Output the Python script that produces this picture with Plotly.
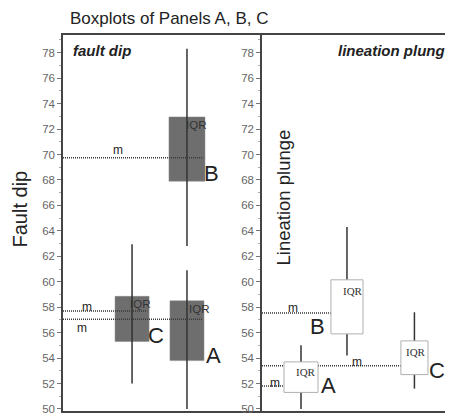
import plotly.graph_objects as go

# ---------------- data ----------------
groups = ["A", "B", "C"]

fault_lower = [50.0, 62.8, 52.0]
fault_q1 = [53.8, 67.9, 55.3]
fault_median = [57.05, 69.75, 57.7]
fault_q3 = [58.5, 72.95, 58.85]
fault_upper = [60.9, 78.3, 62.95]

lin_lower = [50.0, 54.2, 51.6]
lin_q1 = [51.3, 55.9, 52.7]
lin_median = [51.8, 57.55, 53.4]
lin_q3 = [53.7, 60.15, 55.35]
lin_upper = [55.0, 64.3, 57.6]

y_ticks = [50, 52, 54, 56, 58, 60, 62, 64, 66, 68, 70, 72, 74, 76, 78]

# ---------------- layout constants (positions / sizes) ----------------
fault_pos = [6.23, 6.23, 3.47]
fault_w = [1.71, 1.81, 1.71]
lin_pos = [1.96, 4.27, 7.66]
lin_w = [1.71, 1.61, 1.36]

fault_m_lab = [(0.95, 56.38), (2.76, 70.34), (1.2, 58.05)]
fault_iqr_lab = [(6.83, 57.87), (6.68, 72.3), (3.87, 58.27)]
fault_grp_lab = [(7.54, 54.2), (7.44, 68.5), (4.67, 55.77)]
lin_m_lab = [(0.65, 52.05), (1.56, 57.95), (4.77, 53.67)]
lin_iqr_lab = [(2.21, 52.88), (4.57, 59.3), (7.74, 54.45)]
lin_grp_lab = [(3.32, 51.84), (2.81, 56.48), (8.79, 53.0)]

OFF = 8  # page body margin
W, H = 454, 414
ml, mr, mt, mb = 63 - OFF, 0, 35 - OFF, H - (411 - OFF)
pw, ph = W - ml - mr, H - mt - mb
split = 199 / pw
xr2 = (pw - 199) / 19.9

YR = [49.84, 79.39]
DARK = "#333333"
AX = "#444444"
SANS = "Liberation Sans, Arial, sans-serif"
SERIF = "Liberation Serif, Times New Roman, serif"

fig = go.Figure()

# ---------- left panel: fault dip ----------
for i, g in enumerate(groups):
    c, hw = fault_pos[i], fault_w[i] / 2
    fig.add_trace(go.Scatter(
        x=[c - hw, c + hw, c + hw, c - hw, c - hw],
        y=[fault_q1[i], fault_q1[i], fault_q3[i], fault_q3[i], fault_q1[i]],
        fill="toself", fillcolor="#6e6e6e", mode="lines",
        line=dict(width=0.5, color="#888888"), xaxis="x", yaxis="y",
        showlegend=False, hoverinfo="skip"))
for i, g in enumerate(groups):
    c, hw = fault_pos[i], fault_w[i] / 2
    fig.add_trace(go.Scatter(
        x=[c, c], y=[fault_lower[i], fault_upper[i]], mode="lines",
        line=dict(width=1.5, color=DARK), xaxis="x", yaxis="y",
        showlegend=False, hoverinfo="skip"))
    fig.add_trace(go.Scatter(
        x=[0, c + hw * 0.9], y=[fault_median[i], fault_median[i]], mode="lines",
        line=dict(width=1.5, color="#3a3a3a", dash="1px,1px"), xaxis="x", yaxis="y",
        showlegend=False, hoverinfo="skip"))

# ---------- right panel: lineation plunge ----------
for i, g in enumerate(groups):
    c, hw = lin_pos[i], lin_w[i] / 2
    fig.add_trace(go.Scatter(
        x=[0, c - hw], y=[lin_median[i], lin_median[i]], mode="lines",
        line=dict(width=1.5, color="#3a3a3a", dash="1px,1px"), xaxis="x2", yaxis="y2",
        showlegend=False, hoverinfo="skip"))
    fig.add_trace(go.Scatter(
        x=[c, c], y=[lin_lower[i], lin_upper[i]], mode="lines",
        line=dict(width=1.5, color=DARK), xaxis="x2", yaxis="y2",
        showlegend=False, hoverinfo="skip"))
for i, g in enumerate(groups):
    c, hw = lin_pos[i], lin_w[i] / 2
    fig.add_trace(go.Scatter(
        x=[c - hw, c + hw, c + hw, c - hw, c - hw],
        y=[lin_q1[i], lin_q1[i], lin_q3[i], lin_q3[i], lin_q1[i]],
        fill="toself", fillcolor="#ffffff", mode="lines",
        line=dict(width=1, color="#b0b0b0"), xaxis="x2", yaxis="y2",
        showlegend=False, hoverinfo="skip"))

ann = []
def lab(text, x, y, xr, yr, size, family=SANS, color="#222222"):
    ann.append(dict(text=text, x=x, y=y, xref=xr, yref=yr, showarrow=False,
                    font=dict(size=size, family=family, color=color)))

for i, g in enumerate(groups):
    lab("m", *fault_m_lab[i], "x", "y", 12)
    lab("IQR", *fault_iqr_lab[i], "x", "y", 11.5, color="#333333")
    lab(g, *fault_grp_lab[i], "x", "y", 22)
    lab("m", *lin_m_lab[i], "x2", "y2", 12)
    lab("IQR", *lin_iqr_lab[i], "x2", "y2", 11, family=SERIF, color="#333333")
    lab(g, *lin_grp_lab[i], "x2", "y2", 22)

def px(xp):
    return (xp - OFF - ml) / pw
def py(yp):
    return (H - mb - (yp - OFF)) / ph

ann.append(dict(text="Boxplots of Panels A, B, C", x=px(69), y=py(OFF + 0.5), xref="paper", yref="paper",
                xanchor="left", yanchor="top", showarrow=False, borderpad=0,
                font=dict(size=17, family=SANS, color="#222222")))
ann.append(dict(text="<b><i>fault dip</i></b>", x=px(71), y=py(50), xref="paper", yref="paper",
                xanchor="left", yanchor="middle", showarrow=False,
                font=dict(size=15, family=SANS, color="#222222")))
ann.append(dict(text="<b><i>lineation plunge</i></b>", x=px(336), y=py(50), xref="paper", yref="paper",
                xanchor="left", yanchor="middle", showarrow=False,
                font=dict(size=15, family=SANS, color="#222222")))
ann.append(dict(text="Fault dip", x=px(19.5), y=py(209), xref="paper", yref="paper",
                xanchor="center", yanchor="middle", textangle=-90, showarrow=False,
                font=dict(size=20, family=SANS, color="#222222")))
ann.append(dict(text="Lineation plunge", x=px(283), y=py(197.5), xref="paper", yref="paper",
                xanchor="center", yanchor="middle", textangle=-90, showarrow=False,
                font=dict(size=18.5, family=SANS, color="#222222")))

yax = dict(range=YR, tickvals=y_ticks, ticks="outside", ticklen=4, tickcolor="#777777",
           tickfont=dict(size=11.5, color="#666666", family=SANS),
           showline=True, linecolor=AX, linewidth=1.5, showgrid=False, zeroline=False,
           minor=dict(dtick=1, tick0=50, ticks="outside", ticklen=2, tickcolor="#aaaaaa"))

fig.update_layout(
    width=W, height=H, margin=dict(l=ml, r=mr, t=mt, b=mb),
    plot_bgcolor="white", paper_bgcolor="white", showlegend=False,
    xaxis=dict(domain=[0, split], range=[0, 10], showticklabels=False, ticks="",
               showline=True, mirror=True, linecolor=AX, linewidth=1.5,
               showgrid=False, zeroline=False),
    yaxis=dict(anchor="x", **yax),
    xaxis2=dict(domain=[split, 1], range=[0, xr2], showticklabels=False, ticks="",
                showline=True, mirror=True, linecolor=AX, linewidth=1.5,
                showgrid=False, zeroline=False),
    yaxis2=dict(anchor="x2", **yax),
    annotations=ann,
)

fig.write_html("out.html")
